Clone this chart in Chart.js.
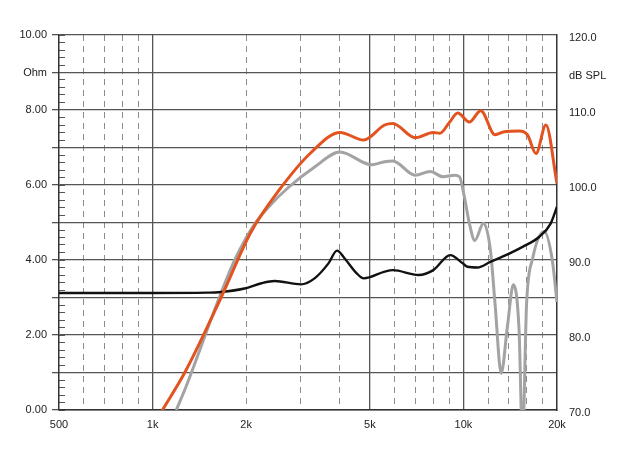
<!DOCTYPE html>
<html>
<head>
<meta charset="utf-8">
<title>Impedance / SPL</title>
<script src="https://cdn.jsdelivr.net/npm/chart.js@4.4.0/dist/chart.umd.min.js"></script>
<style>
  html, body { margin: 0; padding: 0; background: #fff; }
  #wrap { width: 624px; height: 460px; }
</style>
</head>
<body>
<div id="wrap"><canvas id="chart" width="624" height="460"></canvas></div>
<script>
// impedance curve (left axis, Ohm)
const impFreq = [500, 1000, 1500, 1630, 1975, 2240, 2470, 3000, 3320, 3680, 3920, 4150, 4530, 4780, 5580, 5930, 7170, 8000, 9070, 9950, 10300, 11100, 12200, 13700, 15500, 17550, 19080, 20000];
const impOhm = [3.12, 3.12, 3.13, 3.14, 3.24, 3.38, 3.44, 3.35, 3.51, 3.91, 4.25, 4.04, 3.65, 3.51, 3.69, 3.73, 3.60, 3.73, 4.13, 3.91, 3.82, 3.80, 3.95, 4.13, 4.35, 4.62, 4.97, 5.42];

// on-axis SPL (right axis, dB)
const splFreq = [1000, 1069, 1281, 1670, 2065, 2551, 3230, 4010, 4778, 5578, 5926, 7000, 8000, 8400, 9000, 9591, 10447, 11370, 12640, 13530, 15100, 16060, 17120, 18420, 20000];
const splDb = [67.8, 69.8, 75.3, 85.2, 93.6, 99.3, 104.3, 107.0, 106.0, 108.0, 108.2, 106.3, 107.0, 106.9, 108.3, 109.6, 108.4, 109.9, 106.7, 107.1, 107.2, 106.7, 104.2, 108.0, 100.2];

// off-axis SPL (right axis, dB)
const offFreq = [1192, 1281, 1629, 1838, 2099, 2390, 2722, 3321, 4010, 5062, 5578, 5926, 7000, 7813, 8599, 9363, 9711, 10073, 10447, 10883, 11596, 12215, 12638, 13230, 13849, 14473, 15098, 15490, 15966, 16700, 18203, 19310, 20000];
const offDb = [70.0, 73.1, 84.7, 90.0, 94.4, 97.3, 99.6, 102.4, 104.4, 102.7, 103.1, 103.2, 101.3, 101.8, 101.1, 101.3, 101.1, 98.4, 94.9, 92.6, 94.9, 91.3, 84.2, 74.9, 81.1, 86.7, 80.7, 66.0, 84.2, 90.2, 93.8, 90.0, 84.4];

// axes
const xTickValues = [500, 1000, 2000, 5000, 10000, 20000];
const xTickLabels = ['500', '1k', '2k', '5k', '10k', '20k'];
const xSolidGrid = [1000, 5000, 10000];
const xDashedGrid = [600, 700, 800, 900, 2000, 3000, 4000, 6000, 7000, 8000, 9000, 12000, 14000, 16000, 18000];
const ohmTickLabels = ['0.00', '', '2.00', '', '4.00', '', '6.00', '', '8.00', 'Ohm', '10.00'];
const dbTickLabels = ['70.0', '', '80.0', '', '90.0', '', '100.0', '', '110.0', 'dB SPL', '120.0'];

const toPoints = (xs, ys) => xs.map((x, i) => ({ x: x, y: ys[i] }));

const FONT = { family: "'Liberation Sans', Arial, sans-serif", size: 11 };
const GRID = '#555';

const ctx = document.getElementById('chart').getContext('2d');
const chart = new Chart(ctx, {
  type: 'line',
  data: {
    datasets: [
      {
        label: 'SPL',
        data: toPoints(splFreq, splDb),
        yAxisID: 'y2',
        borderColor: '#e2531f',
        borderWidth: 3,
        pointRadius: 0,
        cubicInterpolationMode: 'monotone',
        clip: 0
      },
      {
        label: 'Impedance',
        data: toPoints(impFreq, impOhm),
        yAxisID: 'y',
        borderColor: '#111',
        borderWidth: 2.4,
        pointRadius: 0,
        cubicInterpolationMode: 'monotone',
        clip: 0
      },
      {
        label: 'SPL off-axis',
        data: toPoints(offFreq, offDb),
        yAxisID: 'y2',
        borderColor: '#a3a3a3',
        borderWidth: 3,
        pointRadius: 0,
        cubicInterpolationMode: 'monotone',
        clip: 0
      }
    ]
  },
  options: {
    responsive: false,
    animation: false,
    layout: { padding: { top: 35, left: 0, right: 0, bottom: 0 } },
    plugins: {
      legend: { display: false },
      tooltip: { enabled: false }
    },
    scales: {
      x: {
        type: 'logarithmic',
        position: 'bottom',
        min: 500,
        max: 20000,
        weight: 1,
        afterBuildTicks: (scale) => { scale.ticks = xTickValues.map(v => ({ value: v })); },
        afterFit: (scale) => { scale.height = 50; },
        ticks: {
          autoSkip: false,
          maxRotation: 0,
          padding: 8,
          color: '#222',
          font: FONT,
          callback: (v, i) => xTickLabels[i]
        },
        grid: {
          drawTicks: false,
          lineWidth: 1.3,
          color: (c) => (c.tick && xSolidGrid.includes(c.tick.value)) ? GRID : 'rgba(0,0,0,0)'
        },
        border: { color: '#333', width: 1.5 }
      },
      xm: {
        type: 'logarithmic',
        position: 'bottom',
        min: 500,
        max: 20000,
        weight: 0,
        afterBuildTicks: (scale) => { scale.ticks = xDashedGrid.map(v => ({ value: v })); },
        afterFit: (scale) => { scale.height = 0; },
        ticks: { display: false },
        grid: { drawTicks: false, color: '#8c8c8c', lineWidth: 1 },
        border: { display: false, dash: [6, 5] }
      },
      y: {
        type: 'linear',
        position: 'left',
        min: 0,
        max: 10,
        weight: 1,
        afterBuildTicks: (scale) => { scale.ticks = ohmTickLabels.map((_, i) => ({ value: i })); },
        afterFit: (scale) => { scale.width = 59; },
        ticks: {
          padding: 5,
          color: '#222',
          font: FONT,
          callback: (v, i) => ohmTickLabels[i]
        },
        grid: { color: GRID, lineWidth: 1.3, tickLength: 7, tickColor: GRID },
        border: { color: '#333', width: 1.5 }
      },
      ym: {
        type: 'linear',
        position: 'left',
        min: 0,
        max: 10,
        weight: 0,
        afterBuildTicks: (scale) => {
          const t = [];
          for (let i = 0; i <= 50; i++) t.push({ value: i / 5 });
          scale.ticks = t;
        },
        afterFit: (scale) => { scale.width = 0; },
        ticks: { display: false },
        grid: { drawOnChartArea: false, tickLength: -6, tickColor: GRID, lineWidth: 1 },
        border: { display: false }
      },
      y2: {
        type: 'linear',
        position: 'right',
        min: 70,
        max: 120,
        afterBuildTicks: (scale) => { scale.ticks = dbTickLabels.map((_, i) => ({ value: 70 + i * 5 })); },
        afterFit: (scale) => { scale.width = 67; },
        ticks: {
          padding: 12,
          labelOffset: 3,
          color: '#222',
          font: FONT,
          callback: (v, i) => dbTickLabels[i]
        },
        grid: { drawOnChartArea: false, drawTicks: false },
        border: { color: '#333', width: 1.5 }
      }
    }
  }
});
</script>
</body>
</html>
